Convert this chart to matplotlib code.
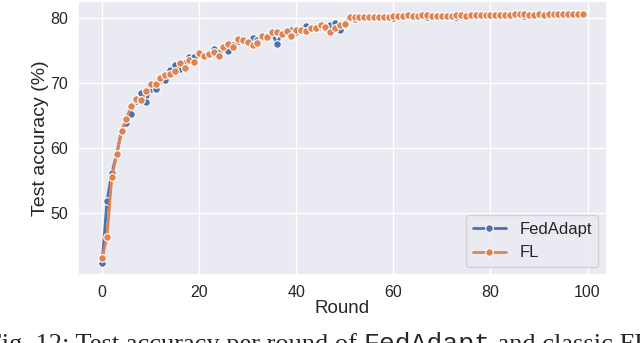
import matplotlib
matplotlib.use("Agg")
import numpy as np
import matplotlib.pyplot as plt
import seaborn as sns

# accuracy per round
rounds = np.arange(100)

fedadapt = [42.3, 51.8, 56.2, 59.0, 62.7, 63.8, 65.3, 67.3, 68.4, 67.1,
            69.1, 69.1, 70.4, 70.4, 72.0, 72.8, 72.2, 73.1, 74.0, 74.0,
            74.5, 74.2, 74.3, 75.2, 74.7, 75.4, 74.9, 75.8, 76.5, 76.4,
            76.3, 76.9, 76.6, 77.1, 77.3, 77.8, 76.0, 77.7, 77.9, 78.1,
            77.8, 78.2, 78.8, 78.5, 78.5, 78.6, 78.4, 78.9, 79.2, 78.2,
            79.1, 80.0, 79.8, 80.1, 80.1, 80.1, 80.2, 80.2, 80.2, 80.2,
            80.0, 80.3, 80.3, 80.4, 80.1, 80.3, 80.4, 80.1, 80.3, 80.3,
            80.3, 80.3, 80.3, 80.1, 80.4, 80.3, 80.4, 80.4, 80.4, 80.5,
            80.5, 80.4, 80.5, 80.5, 80.3, 80.6, 80.6, 80.3, 80.5, 80.5,
            80.6, 80.5, 80.4, 80.6, 80.6, 80.6, 80.5, 80.7, 80.6, 80.7]

fl = [43.0, 46.3, 55.5, 59.0, 62.6, 64.5, 66.4, 67.6, 67.4, 68.7,
      69.9, 69.9, 70.7, 71.3, 71.4, 71.8, 73.1, 72.3, 73.5, 73.2,
      74.6, 74.2, 74.5, 74.7, 74.1, 75.6, 76.0, 75.5, 76.7, 76.6,
      76.3, 75.9, 76.2, 77.2, 77.1, 77.8, 77.8, 77.6, 78.0, 77.2,
      78.2, 78.1, 78.0, 78.4, 78.5, 78.9, 78.6, 77.8, 78.4, 78.9,
      79.1, 80.1, 80.1, 80.1, 80.1, 80.1, 80.2, 80.2, 80.2, 80.2,
      80.3, 80.3, 80.3, 80.4, 80.3, 80.3, 80.4, 80.4, 80.3, 80.3,
      80.3, 80.3, 80.3, 80.4, 80.4, 80.3, 80.4, 80.4, 80.4, 80.5,
      80.5, 80.4, 80.5, 80.5, 80.5, 80.6, 80.6, 80.6, 80.5, 80.5,
      80.6, 80.5, 80.6, 80.6, 80.6, 80.6, 80.6, 80.7, 80.7, 80.7]

labels = ["FedAdapt", "FL"]

sns.set_theme(style="darkgrid")
plt.rcParams["font.family"] = ["Liberation Sans", "DejaVu Sans"]
colors = sns.color_palette("deep")

fig = plt.figure(figsize=(6.4, 3.43), dpi=100)
ax = fig.add_axes([0.122, 0.197, 0.826, 0.800])

for ys, lab, c in zip([fedadapt, fl], labels, colors[:2]):
    ax.plot(rounds, ys, color=c, lw=2, marker="o", ms=5.5,
            mec="white", mew=0.8, label=lab)

ax.set_xlabel("Round", fontsize=13.5, labelpad=0)
ax.set_ylabel("Test accuracy (%)", fontsize=14, labelpad=1)
ax.tick_params(labelsize=11.5, pad=1)
ax.set_xticks([0, 20, 40, 60, 80, 100])
ax.set_yticks([50, 60, 70, 80])
ax.legend(loc="lower right", fontsize=12, borderaxespad=0.5)

# caption, cut off by the bottom edge like the source
yb = -0.022
t1 = fig.text(-0.02, yb, "Fig. 12: Test accuracy per round of ",
              fontsize=19, family="Liberation Serif", va="baseline")
t2 = fig.text(0, yb, "FedAdapt", fontsize=19, family="Liberation Mono",
              va="baseline")
t3 = fig.text(0, yb, " and classic FL", fontsize=19,
              family="Liberation Serif", va="baseline")
fig.canvas.draw()
r = fig.canvas.get_renderer()
x = t1.get_window_extent(r).x1 / fig.bbox.width
t2.set_position((x, yb))
fig.canvas.draw()
x = t2.get_window_extent(r).x1 / fig.bbox.width
t3.set_position((x, yb))

fig.savefig("out.png", dpi=100)
